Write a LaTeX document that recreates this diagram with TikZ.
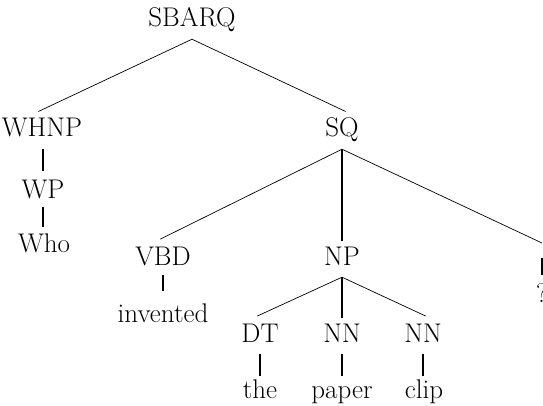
\documentclass[tikz,border=0pt]{standalone}
\begin{document}
\begin{tikzpicture}[x=1pt,y=-1pt,
  lbl/.style={font=\fontsize{27}{32}\selectfont, anchor=base, inner xsep=0pt, inner ysep=9pt, text height=18pt, text depth=3pt},
  diag/.style={line width=0.7pt},
  vert/.style={line width=2pt}]
\useasboundingbox (0,0) rectangle (543,406);
% nodes (x = centre, y = baseline)
\node[lbl] (sbarq) at (192,27) {SBARQ};
\node[lbl] (whnp) at (42,137) {WHNP};
\node[lbl] (wp) at (43,198) {WP};
\node[lbl] (who) at (44,252) {Who};
\node[lbl] (sq) at (342,137) {SQ};
\node[lbl] (vbd) at (163,265) {VBD};
\node[lbl] (np) at (342,265) {NP};
\coordinate (pdottop) at (542,243);
\coordinate (pdotbot) at (542,258);
\node[lbl] (qm) at (542,302) {?};
\node[lbl] (invented) at (163,322) {invented};
\node[lbl] (dt) at (260,342) {DT};
\node[lbl] (nna) at (342,342) {NN};
\node[lbl] (nnb) at (423,342) {NN};
\node[lbl] (the) at (260,398) {the};
\node[lbl] (paper) at (342,398) {paper};
\node[lbl] (clip) at (424,398) {clip};
% connectors
\draw[diag,shorten >=-4pt] (sbarq.south) -- (whnp.north);
\draw[diag,shorten >=-4pt] (sbarq.south) -- (sq.north);
\draw[vert] (whnp.south -| wp) -- (wp.north);
\draw[vert,shorten <=-3pt,shorten >=-2pt] (wp.south) -- (who.north -| wp);
\draw[diag,shorten >=-3pt] (sq.south) -- (vbd.north);
\draw[vert,shorten >=-3pt] (sq.south) -- (np.north);
\draw[diag] (sq.south) -- (pdottop);
\draw[vert] (pdotbot) -- (qm.north -| pdotbot);
\draw[vert,shorten <=-2pt,shorten >=4pt] (vbd.south) -- (invented.north);
\draw[diag,shorten >=-3pt] (np.south) -- (dt.north);
\draw[vert,shorten >=-3pt] (np.south) -- (nna.north);
\draw[diag,shorten >=-3pt] (np.south) -- (nnb.north);
\draw[vert,shorten >=-5pt] (dt.south) -- (the.north);
\draw[vert,shorten >=-5pt] (nna.south) -- (paper.north);
\draw[vert,shorten >=-5pt] (nnb.south) -- (clip.north -| nnb);
\end{tikzpicture}
\end{document}
